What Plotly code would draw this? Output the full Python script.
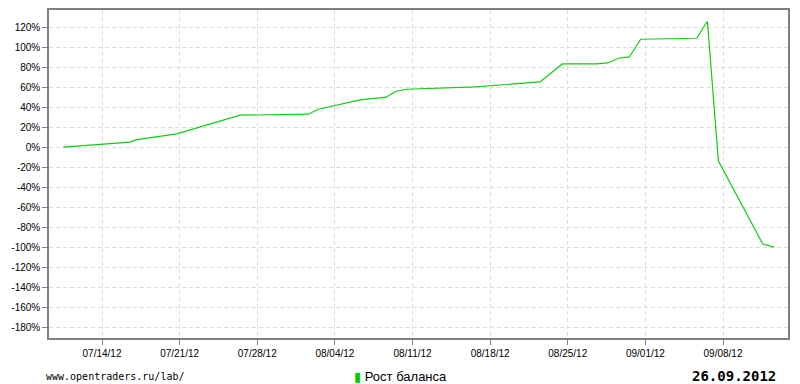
import plotly.graph_objects as go

dates = [
    "2012-07-10 12:15", "2012-07-16 12:36", "2012-07-17 03:45", "2012-07-20 17:40",
    "2012-07-26 10:40", "2012-08-01 14:25", "2012-08-02 12:10", "2012-08-06 06:30",
    "2012-08-08 14:40", "2012-08-09 12:15", "2012-08-10 11:30", "2012-08-14 23:45",
    "2012-08-16 15:20", "2012-08-22 12:00", "2012-08-24 12:15", "2012-08-27 14:40",
    "2012-08-28 14:25", "2012-08-29 13:25", "2012-08-30 13:15", "2012-08-31 13:55",
    "2012-09-05 15:05", "2012-09-06 14:10", "2012-09-07 13:55", "2012-09-11 14:00",
    "2012-09-12 14:25",
]
growth = [
    0, 5, 7.6, 13.3,
    32, 33, 38, 47.3,
    50, 56, 58, 59.3,
    60.3, 65.3, 83.3, 83.3,
    84.3, 89, 90.3, 108,
    109, 126, -13.7, -97,
    -100,
]

tick_dates = ["2012-07-14", "2012-07-21", "2012-07-28", "2012-08-04", "2012-08-11",
              "2012-08-18", "2012-08-25", "2012-09-01", "2012-09-08"]
tick_labels = ["07/14/12", "07/21/12", "07/28/12", "08/04/12", "08/11/12",
               "08/18/12", "08/25/12", "09/01/12", "09/08/12"]
y_ticks = list(range(-180, 121, 20))
y_labels = [f"{v}%" for v in y_ticks]

series_name = "Рост баланса"
footer_left = "www.opentraders.ru/lab/"
footer_right = "26.09.2012"

GREEN = "#11cc11"
fig = go.Figure()
fig.add_trace(go.Scatter(x=dates, y=growth, mode="lines", name=series_name,
                         line=dict(color=GREEN, width=1.2), showlegend=False,
                         hoverinfo="skip"))

axis_font = dict(family="Liberation Sans, Arial, sans-serif", size=10, color="#000")
FY = -0.116
fig.update_layout(
    width=800, height=384,
    margin=dict(l=49, r=12, t=10, b=46, autoexpand=False),
    paper_bgcolor="white", plot_bgcolor="white",
    showlegend=False,
    xaxis=dict(
        type="date", range=["2012-07-09 05:17", "2012-09-13 20:38"],
        tickvals=tick_dates, ticktext=tick_labels, tickfont=axis_font,
        ticks="outside", ticklen=5, tickcolor="#808080",
        showgrid=True, gridcolor="#dcdcdc", griddash="4px,3px", gridwidth=1,
        showline=True, linecolor="#808080", linewidth=1.5, mirror=True,
        zeroline=False,
    ),
    yaxis=dict(
        range=[-191, 137.3], tickvals=y_ticks, ticktext=y_labels, tickfont=axis_font,
        ticks="outside", ticklen=5, tickcolor="#808080",
        showgrid=True, gridcolor="#dcdcdc", griddash="4px,3px", gridwidth=1,
        showline=True, linecolor="#808080", linewidth=1.5, mirror=True,
        zeroline=False,
    ),
    annotations=[
        dict(text=footer_left, xref="paper", yref="paper", x=-0.007, y=FY,
             xanchor="left", yanchor="middle", showarrow=False,
             font=dict(family="DejaVu Sans Mono, monospace", size=10, color="#000")),
        dict(text=f"<b>{footer_right}</b>", xref="paper", yref="paper", x=0.987, y=FY,
             xanchor="right", yanchor="middle", showarrow=False,
             font=dict(family="DejaVu Sans Mono, monospace", size=14, color="#000")),
        dict(text=f"<span style='color:#00cc00;font-family:DejaVu Sans'>▮</span> " + series_name,
             xref="paper", yref="paper", x=0.410, y=FY,
             xanchor="left", yanchor="middle", showarrow=False,
             font=dict(family="Liberation Sans, Arial, sans-serif", size=13, color="#000")),
    ],
)

fig.write_html("out.html")
